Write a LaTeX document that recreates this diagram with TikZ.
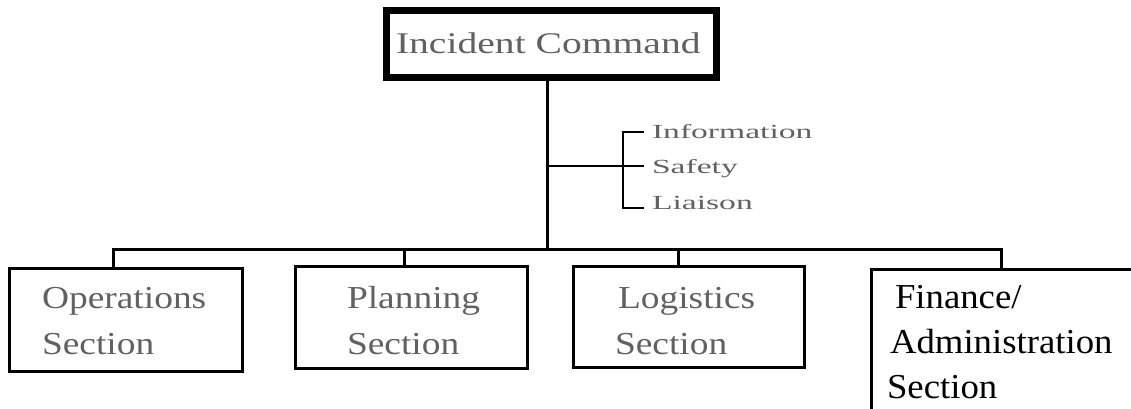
\documentclass[tikz,border=0pt]{standalone}
\usepackage{fontspec}
\setmainfont{Liberation Serif}
\newfontfamily\secfont[FakeStretch=1.17]{Liberation Serif}
\newfontfamily\icfont[FakeStretch=1.32]{Liberation Serif}
\newfontfamily\stafffont[FakeStretch=1.68]{Liberation Serif}
\newfontfamily\finfont[FakeStretch=1.05]{Liberation Serif}
\definecolor{dotgray}{gray}{0.38}

\begin{document}
\begin{tikzpicture}[x=1pt,y=-1pt,
  box/.style={draw, line width=3pt, inner sep=0pt, outer sep=0pt, fill=white},
  headbox/.style={box, line width=7pt},
  link/.style={draw, line width=3pt},
  staffline/.style={draw, line width=2.6pt},
  lbl/.style={anchor=base west, inner sep=0pt, outer sep=0pt},
  seclbl/.style={lbl, text=dotgray, font=\secfont\fontsize{32}{36}\selectfont},
  stafflbl/.style={lbl, text=dotgray, font=\stafffont\fontsize{20}{24}\selectfont},
  finlbl/.style={lbl, text=black, font=\finfont\fontsize{35}{40}\selectfont}]

\useasboundingbox (0,0) rectangle (1131,408);
\clip (0,0) rectangle (1131,408);

% boxes
\node[headbox, minimum width=330pt, minimum height=66.5pt] (ic) at (551.5,43.75) {};
\node[box, minimum width=233pt, minimum height=103pt] (ops) at (126,320) {};
\node[box, minimum width=232pt, minimum height=102pt] (plan) at (411.5,317.5) {};
\node[box, minimum width=231pt, minimum height=101pt] (log) at (689,317) {};
\node[box, minimum width=300pt, minimum height=200pt] (fin) at (1021.5,369.5) {};

% labels
\node[lbl, text=dotgray, font=\icfont\fontsize{30}{34}\selectfont] (ictext) at (396,53) {Incident Command};

\node[seclbl] (ops1) at (42,308) {Operations};
\node[seclbl] (ops2) at (42,354) {Section};
\node[seclbl] (plan1) at (347,308) {Planning};
\node[seclbl] (plan2) at (347,354) {Section};
\node[seclbl] (log1) at (618,308) {Logistics};
\node[seclbl] (log2) at (615,354) {Section};

\node[finlbl] (fin1) at (895,308) {Finance/};
\node[finlbl] (fin2) at (890,353) {Administration};
\node[finlbl] (fin3) at (887,398) {Section};

\node[stafflbl] (info) at (652,138) {Information};
\node[stafflbl] (safety) at (652,173) {Safety};
\node[stafflbl] (liaison) at (652,209) {Liaison};

% trunk and bus
\coordinate (trunk) at (547,249);
\coordinate (b1) at (113,249);
\coordinate (b2) at (404,249);
\coordinate (b3) at (678,249);
\coordinate (b4) at (1001,249);

\draw[link] (trunk |- ic.south) -- (trunk);
\draw[link] (b1 |- ops.north) -- (b1) -- (b4) -- (b4 |- fin.north);
\draw[link] (b2) -- (b2 |- plan.north);
\draw[link] (b3) -- (b3 |- log.north);

% staff bracket
\coordinate (t1) at (644,132);
\coordinate (t2) at (644,166);
\coordinate (t3) at (644,208);
\coordinate (br) at (623,166);
\draw[staffline] (t1) -- (t1 -| br) -- (t3 -| br) -- (t3);
\draw[staffline] (trunk |- t2) -- (t2);
\end{tikzpicture}
\end{document}
